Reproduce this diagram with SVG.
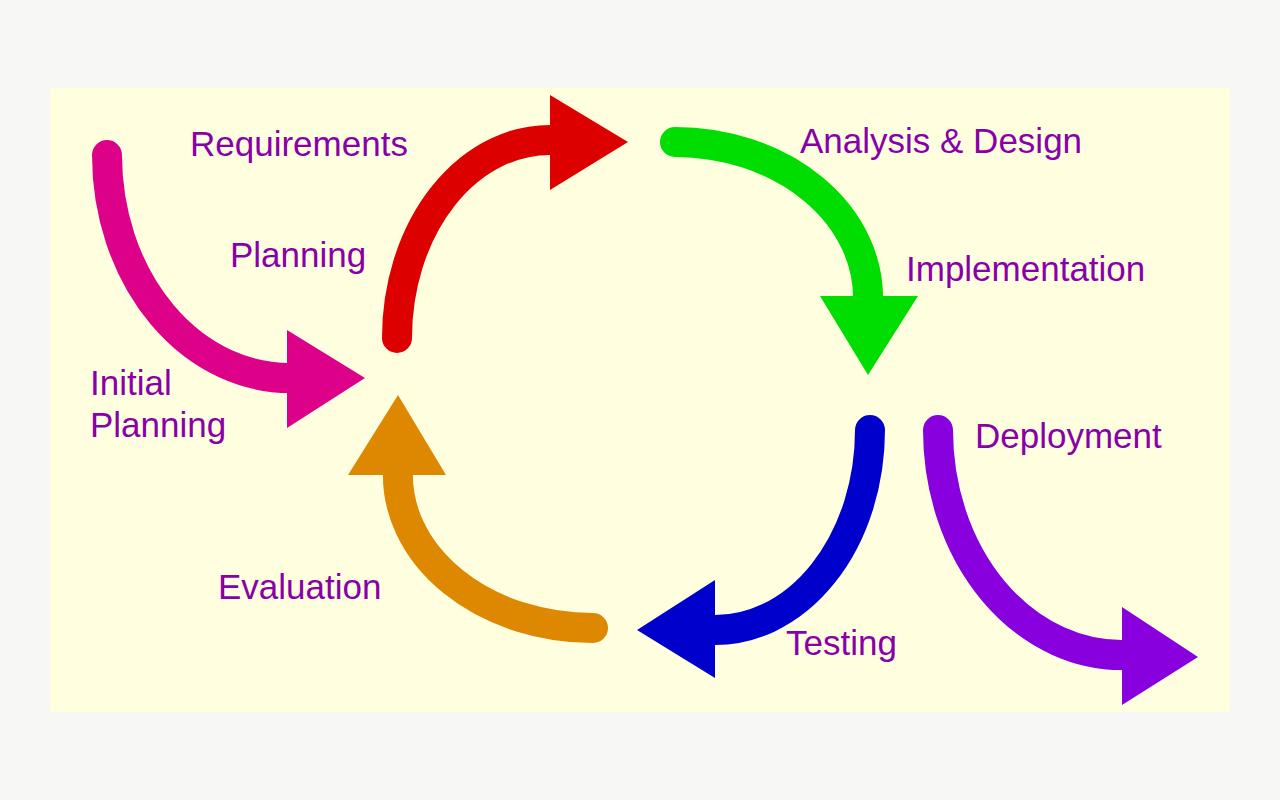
<svg xmlns="http://www.w3.org/2000/svg" width="1280" height="800" viewBox="0 0 1280 800">
<style>
.a{fill:none;stroke-width:30;stroke-linecap:round}
.t{font-family:"Liberation Sans",Arial,sans-serif;font-size:35px;fill:#8a00a8}
</style>
<rect width="1280" height="800" fill="#f7f7f5"/>
<rect x="50" y="88" width="1180" height="624" fill="#ffffe0"/>
<g id="connectors">
<g id="initial"><path class="a" stroke="#dd0088" d="M107,155 A183,223 0 0 0 295,378"/><polygon fill="#dd0088" points="287,330 365,378 287,428"/></g>
<g id="planning"><path class="a" stroke="#dd0000" d="M397,338 A153,198 0 0 1 555,140"/><polygon fill="#dd0000" points="550,95 628,142 550,190"/></g>
<g id="analysis"><path class="a" stroke="#00dd00" d="M675,142 A193,156 0 0 1 868,302"/><polygon fill="#00dd00" points="820,296 918,296 868,375"/></g>
<g id="testing"><path class="a" stroke="#0000cc" d="M870,430 A155,200 0 0 1 710,630"/><polygon fill="#0000cc" points="715,580 637,630 715,678"/></g>
<g id="evaluation"><path class="a" stroke="#dd8800" d="M593,628 A195,153 0 0 1 398,470"/><polygon fill="#dd8800" points="348,475 398,395 446,475"/></g>
<g id="deployment"><path class="a" stroke="#8800dd" d="M938,430 A184,225 0 0 0 1127,655"/><polygon fill="#8800dd" points="1122,607 1198,657 1122,705"/></g>
</g>
<g id="labels">
<text class="t" x="190" y="156">Requirements</text>
<text class="t" x="800" y="153">Analysis &amp; Design</text>
<text class="t" x="230" y="267">Planning</text>
<text class="t" x="906" y="281">Implementation</text>
<text class="t" x="90" y="395">Initial</text>
<text class="t" x="90" y="437">Planning</text>
<text class="t" x="975" y="448">Deployment</text>
<text class="t" x="218" y="599">Evaluation</text>
<text class="t" x="786" y="655">Testing</text>
</g>
</svg>
